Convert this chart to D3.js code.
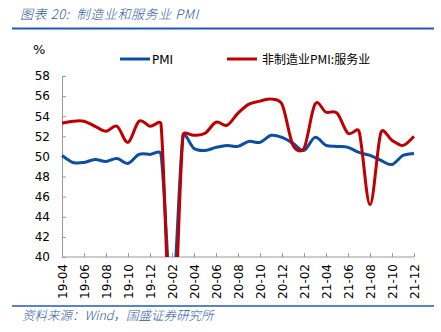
<!DOCTYPE html>
<html><head><meta charset="utf-8">
<script src="https://cdn.jsdelivr.net/npm/d3@7"></script>
<style>
body{margin:0;background:#fff;}
svg{display:block;}
</style></head>
<body>
<script>
const months = ["19-04","19-05","19-06","19-07","19-08","19-09","19-10","19-11","19-12","20-01","20-02","20-03","20-04","20-05","20-06","20-07","20-08","20-09","20-10","20-11","20-12","21-01","21-02","21-03","21-04","21-05","21-06","21-07","21-08","21-09","21-10","21-11","21-12"];
const pmi = [50.1,49.4,49.4,49.7,49.5,49.8,49.3,50.2,50.2,50.2,35.7,52.0,50.8,50.6,50.9,51.1,51.0,51.5,51.4,52.1,51.9,51.3,50.6,51.9,51.1,51.0,50.9,50.4,50.1,49.6,49.2,50.1,50.3];
const services = [53.3,53.5,53.5,53.0,52.5,53.0,51.4,53.5,53.0,53.2,30.1,52.1,52.1,52.3,53.4,53.1,54.3,55.2,55.5,55.7,55.2,51.1,50.8,55.2,54.4,54.3,52.3,52.5,45.2,52.4,51.6,51.1,52.0];
const yTicks = [40,42,44,46,48,50,52,54,56,58];
const xTickLabels = months.filter((m,i)=>i%2===0);
const seriesNames = ["PMI","非制造业PMI:服务业"];
const colors = ["#0A4FA3","#C00000"];

// Excel-like smoothed curve for d3.line (Bezier with 1/6 tangents capped at half segment length)
function ExcelSmooth(context){ this._context=context; }
ExcelSmooth.prototype={
  areaStart(){}, areaEnd(){},
  lineStart(){ this._pts=[]; },
  point(x,y){ this._pts.push([+x,+y]); },
  lineEnd(){
    const p=this._pts, c=this._context, n=p.length;
    if(!n) return;
    c.moveTo(p[0][0],p[0][1]);
    const dist=(a,b)=>Math.hypot(a[0]-b[0],a[1]-b[1]);
    for(let i=0;i<n-1;i++){
      const p0=p[i-1]||p[i], p1=p[i], p2=p[i+1], p3=p[i+2]||p[i+1];
      const d12=dist(p1,p2);
      let t1=[(p2[0]-p0[0])/6,(p2[1]-p0[1])/6];
      let l1=Math.hypot(t1[0],t1[1]);
      if(l1>d12/2){ const s=(d12/2)/l1; t1=[t1[0]*s,t1[1]*s]; }
      let t2=[(p3[0]-p1[0])/6,(p3[1]-p1[1])/6];
      let l2=Math.hypot(t2[0],t2[1]);
      if(l2>d12/2){ const s=(d12/2)/l2; t2=[t2[0]*s,t2[1]*s]; }
      c.bezierCurveTo(p1[0]+t1[0],p1[1]+t1[1],p2[0]-t2[0],p2[1]-t2[1],p2[0],p2[1]);
    }
  }
};
const curveExcel=ctx=>new ExcelSmooth(ctx);

const W=441,H=332;
const svg=d3.select("body").append("svg").attr("width",W).attr("height",H);
const x=d3.scalePoint().domain(months).range([62,414]);
const y=d3.scaleLinear().domain([40,58]).range([257,76]);
const titleColor="#2B56A6";

// title
svg.append("text").attr("x",20).attr("y",19).attr("fill",titleColor)
  .attr("font-family","'Noto Sans CJK SC',sans-serif").attr("font-style","italic").attr("font-size",13).attr("letter-spacing",0.6).attr("font-weight",300)
  .attr("xml:space","preserve").text("图表 20:  制造业和服务业 PMI");
svg.append("line").attr("x1",12).attr("x2",434).attr("y1",28.5).attr("y2",28.5).attr("stroke","#1F5BB5").attr("stroke-width",2);
svg.append("line").attr("x1",12).attr("x2",434).attr("y1",306).attr("y2",306).attr("stroke","#1F5BB5").attr("stroke-width",1.5);
svg.append("text").attr("x",22).attr("y",320).attr("fill",titleColor)
  .attr("font-family","'Noto Sans CJK SC',sans-serif").attr("font-style","italic").attr("font-size",12.5).attr("font-weight",300)
  .text("资料来源：Wind，国盛证券研究所");

// % label
svg.append("text").attr("x",33).attr("y",54).attr("font-family","'DejaVu Sans',sans-serif").attr("font-size",13).attr("fill","#000").text("%");

// y axis
const yAxis=d3.axisLeft(y).tickValues(yTicks).tickSizeInner(-4).tickSizeOuter(0).tickPadding(12);
const gy=svg.append("g").attr("transform","translate(62,0)").call(yAxis);
gy.selectAll("text").attr("font-family","'DejaVu Sans',sans-serif").attr("font-size",12).attr("fill","#000");
gy.selectAll("line,path").attr("stroke","#999");

// x axis
const xAxis=d3.axisBottom(x).tickValues(xTickLabels).tickSizeInner(-4).tickSizeOuter(0).tickPadding(6);
const gx=svg.append("g").attr("transform","translate(0,257)").call(xAxis);
gx.select(".domain").attr("d","M62,0H414");
gx.selectAll("line,path").attr("stroke","#999");
gx.selectAll("text").attr("font-family","'DejaVu Sans',sans-serif").attr("font-size",12).attr("fill","#000")
  .attr("transform","rotate(-90)").attr("text-anchor","end").attr("dy","0.35em").attr("x",-7).attr("y",0);

// clip
svg.append("clipPath").attr("id","clip").append("rect").attr("x",55).attr("y",60).attr("width",370).attr("height",197);
const line=d3.line().x((d,i)=>x(months[i])).y(d=>y(d)).curve(curveExcel);
const g=svg.append("g").attr("clip-path","url(#clip)");
[pmi,services].forEach((s,k)=>{
  g.append("path").datum(s).attr("d",line).attr("fill","none").attr("stroke",colors[k]).attr("stroke-width",3).attr("stroke-linejoin","round");
});

// legend
const leg=[{x:120,tx:152},{x:227,tx:262}];
leg.forEach((l,k)=>{
  svg.append("line").attr("x1",l.x).attr("x2",l.x+30).attr("y1",59).attr("y2",59).attr("stroke",colors[k]).attr("stroke-width",3);
  svg.append("text").attr("x",l.tx).attr("y",63.5).attr("font-family",k===0?"'DejaVu Sans',sans-serif":"'Noto Sans CJK SC',sans-serif").attr("font-size",12).attr("fill","#000").text(seriesNames[k]);
});
</script>
</body></html>
